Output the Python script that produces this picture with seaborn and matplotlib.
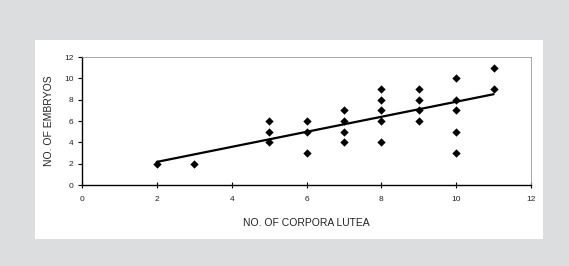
import matplotlib
matplotlib.use("Agg")
import matplotlib.pyplot as plt
from matplotlib.patches import Rectangle
import seaborn as sns
import pandas as pd

corpora_lutea = [2, 3, 5, 5, 5, 6, 6, 6, 7, 7, 7, 7, 8, 8, 8, 8, 8,
                 9, 9, 9, 9, 10, 10, 10, 10, 10, 11, 11]
embryos = [2, 2, 4, 5, 6, 3, 5, 6, 4, 5, 6, 7, 4, 6, 7, 8, 9,
           6, 7, 8, 9, 3, 5, 7, 8, 10, 9, 11]
x_ticks = [0, 2, 4, 6, 8, 10, 12]
y_ticks = [0, 2, 4, 6, 8, 10, 12]

df = pd.DataFrame({"cl": corpora_lutea, "emb": embryos})

sns.set_style("white")
plt.rcParams["font.family"] = ["Liberation Sans", "DejaVu Sans"]
plt.rcParams["text.color"] = "#222222"

fig = plt.figure(figsize=(5.69, 2.66), dpi=100)
fig.patch.set_facecolor("#dcdddf")
fig.patches.append(Rectangle((35 / 569, 1 - 239 / 266), (543 - 35) / 569, (239 - 40) / 266,
                             transform=fig.transFigure, facecolor="white",
                             edgecolor="none", zorder=-5))

ax = fig.add_axes([82 / 569, 1 - 185 / 266, (531 - 82) / 569, 128 / 266])
sns.regplot(data=df, x="cl", y="emb", ax=ax, ci=None, truncate=True,
            marker="D", scatter_kws={"s": 18, "color": "black", "linewidths": 0, "alpha": 1},
            line_kws={"color": "black", "linewidth": 1.6})

ax.set_xlim(0, 12)
ax.set_ylim(0, 12)
ax.set_xticks(x_ticks)
ax.set_yticks(y_ticks)
ax.tick_params(bottom=True, left=True, labelsize=6, length=3, width=0.8,
               color="black", labelcolor="#222222")
ax.tick_params(axis="x", direction="inout", length=4, pad=6)
ax.tick_params(axis="y", direction="out", pad=3)
for s in ["left", "bottom"]:
    ax.spines[s].set_color("black")
    ax.spines[s].set_linewidth(1)
for s in ["top", "right"]:
    ax.spines[s].set_color("#999999")
    ax.spines[s].set_linewidth(0.6)

ax.set_xlabel("NO. OF CORPORA LUTEA", fontsize=7.5, labelpad=11, color="#222222")
ax.set_ylabel("NO. OF EMBRYOS", fontsize=7.5, labelpad=7, color="#222222")

fig.savefig("out.png", dpi=100, facecolor=fig.get_facecolor())
